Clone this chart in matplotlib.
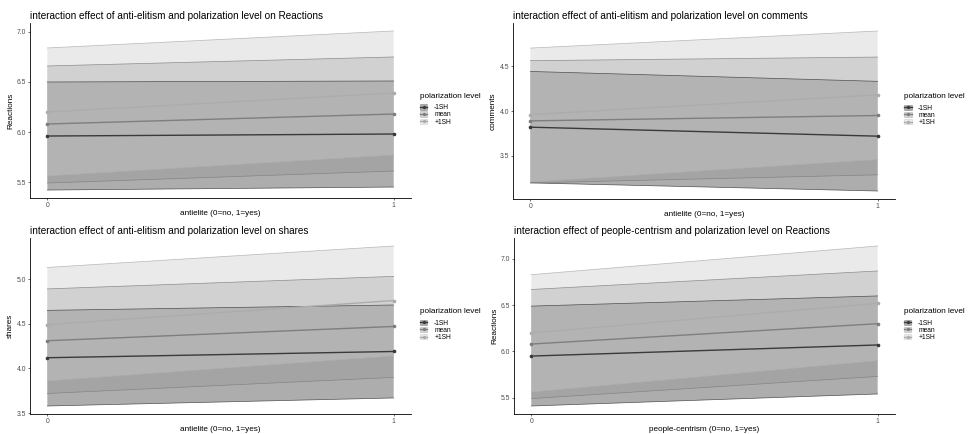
import matplotlib
matplotlib.use("Agg")
import matplotlib.pyplot as plt
from matplotlib.patches import Patch
from matplotlib.lines import Line2D
from matplotlib.ticker import MultipleLocator, FormatStrFormatter

plt.rcParams['font.family'] = ['Liberation Sans', 'DejaVu Sans']

x = [0, 1]
levels = ['-1SH', 'mean', '+1SH']

# Panel 1: anti-elitism -> Reactions
p1_fit = {'-1SH': [5.96, 5.98], 'mean': [6.08, 6.18], '+1SH': [6.20, 6.39]}
p1_lo = {'-1SH': [5.42, 5.45], 'mean': [5.49, 5.61], '+1SH': [5.56, 5.77]}
p1_hi = {'-1SH': [6.50, 6.51], 'mean': [6.66, 6.75], '+1SH': [6.84, 7.01]}

# Panel 2: anti-elitism -> comments
p2_fit = {'-1SH': [3.82, 3.72], 'mean': [3.89, 3.95], '+1SH': [3.96, 4.18]}
p2_lo = {'-1SH': [3.20, 3.11], 'mean': [3.20, 3.29], '+1SH': [3.21, 3.46]}
p2_hi = {'-1SH': [4.44, 4.33], 'mean': [4.56, 4.60], '+1SH': [4.70, 4.89]}

# Panel 3: anti-elitism -> shares
p3_fit = {'-1SH': [4.12, 4.19], 'mean': [4.31, 4.47], '+1SH': [4.49, 4.76]}
p3_lo = {'-1SH': [3.58, 3.67], 'mean': [3.72, 3.90], '+1SH': [3.86, 4.14]}
p3_hi = {'-1SH': [4.65, 4.71], 'mean': [4.89, 5.03], '+1SH': [5.13, 5.37]}

# Panel 4: people-centrism -> Reactions
p4_fit = {'-1SH': [5.95, 6.07], 'mean': [6.08, 6.30], '+1SH': [6.20, 6.52]}
p4_lo = {'-1SH': [5.41, 5.54], 'mean': [5.49, 5.73], '+1SH': [5.56, 5.90]}
p4_hi = {'-1SH': [6.49, 6.60], 'mean': [6.67, 6.87], '+1SH': [6.83, 7.14]}

titles = ['interaction effect of anti-elitism and polarization level on Reactions',
          'interaction effect of anti-elitism and polarization level on comments',
          'interaction effect of anti-elitism and polarization level on shares',
          'interaction effect of people-centrism and polarization level on Reactions']
ylabels = ['Reactions', 'comments', 'shares', 'Reactions']
xlabels = ['antielite (0=no, 1=yes)', 'antielite (0=no, 1=yes)',
           'antielite (0=no, 1=yes)', 'people-centrism (0=no, 1=yes)']
legend_title = 'polarization level'

panels = [(p1_fit, p1_lo, p1_hi), (p2_fit, p2_lo, p2_hi),
          (p3_fit, p3_lo, p3_hi), (p4_fit, p4_lo, p4_hi)]

fills = {'-1SH': '#333333', 'mean': '#989898', '+1SH': '#cccccc'}
lines = {'-1SH': '#3a3a3a', 'mean': '#7e7e7e', '+1SH': '#acacac'}
ALPHA = 0.4

W, H = 969, 434
fig = plt.figure(figsize=(W / 100, H / 100), dpi=100)

# axes boxes in pixels: left, top, right, bottom
boxes = [(30, 23, 411, 198), (513, 23, 895, 199),
         (30, 238, 411, 414), (514, 238, 895, 414)]

for i, (box, (fit, lo, hi)) in enumerate(zip(boxes, panels)):
    l, t, r, b = box
    ax = fig.add_axes([l / W, 1 - b / H, (r - l) / W, (b - t) / H])
    for lev in levels:
        ax.fill_between(x, lo[lev], hi[lev], facecolor=fills[lev], alpha=ALPHA, linewidth=0)
        ax.plot(x, lo[lev], color=lines[lev], lw=0.5, alpha=0.85)
        ax.plot(x, hi[lev], color=lines[lev], lw=0.5, alpha=0.85)
    for lev in levels:
        ax.plot(x, fit[lev], color=lines[lev], lw=1.0, marker='o', markersize=1.6)
    ymin = min(min(v) for v in lo.values())
    ymax = max(max(v) for v in hi.values())
    rng = ymax - ymin
    ax.set_ylim(ymin - 0.05 * rng, ymax + 0.05 * rng)
    ax.set_xlim(-0.05, 1.05)
    ax.set_xticks([0, 1])
    ax.set_xticklabels(['0', '1'])
    ax.yaxis.set_major_locator(MultipleLocator(0.5))
    ax.yaxis.set_major_formatter(FormatStrFormatter('%.1f'))
    for s in ['top', 'right']:
        ax.spines[s].set_visible(False)
    for s in ['left', 'bottom']:
        ax.spines[s].set_linewidth(0.6)
        ax.spines[s].set_color('black')
    ax.tick_params(length=1.6, width=0.5, colors='#333333', labelsize=4.9,
                   labelcolor='#4d4d4d', pad=1.0)
    ax.set_ylabel(ylabels[i], fontsize=5.9, labelpad=2)
    ax.set_xlabel(xlabels[i], fontsize=5.9, labelpad=1)
    ax.set_title(titles[i], loc='left', fontsize=7.2, pad=3)

    handles = []
    for lev in levels:
        p = Patch(facecolor=fills[lev], alpha=ALPHA, edgecolor=lines[lev], linewidth=0.5)
        ln = Line2D([], [], color=lines[lev], lw=1.0, marker='o', markersize=1.4)
        handles.append((p, ln))
    leg = ax.legend(handles, levels, title=legend_title, loc='upper left',
                    bbox_to_anchor=(1.024, 0.60), frameon=False,
                    fontsize=4.8, title_fontsize=5.9, borderpad=0,
                    borderaxespad=0, handlelength=1.1, handleheight=0.85,
                    handletextpad=1.0, labelspacing=0.04, alignment='left')
    leg._legend_box.sep = 3.0

fig.savefig('out.png', dpi=100)
